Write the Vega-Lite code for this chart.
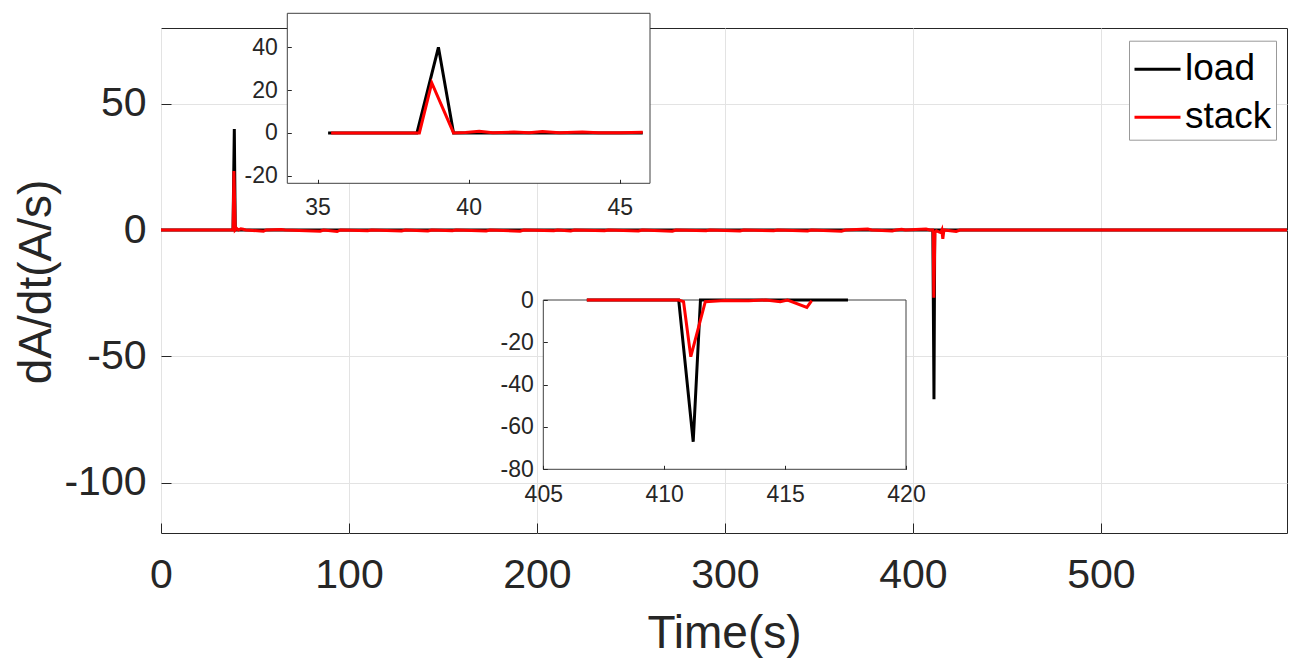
{
  "$schema": "https://vega.github.io/schema/vega-lite/v6.json",
  "width": 1126,
  "height": 505,
  "autosize": "none",
  "padding": {"left": 161, "top": 28, "right": 13, "bottom": 136},
  "background": "#ffffff",
  "config": {
    "view": {"stroke": "#262626", "strokeWidth": 1},
    "font": "Liberation Sans",
    "axis": {"labelFont": "Liberation Sans", "titleFont": "Liberation Sans", "labelColor": "#262626", "titleColor": "#262626", "titleFontWeight": "normal", "tickColor": "#262626", "labelFlush": false, "labelOverlap": false, "labelExpr": "'' + datum.value"}
  },
  "datasets": {
    "main": [
      {"t": 0, "v": 0, "s": "load"},
      {"t": 38.3, "v": 0, "s": "load"},
      {"t": 39.0, "v": 40, "s": "load"},
      {"t": 39.5, "v": 0, "s": "load"},
      {"t": 410.6, "v": 0, "s": "load"},
      {"t": 411.2, "v": -67, "s": "load"},
      {"t": 411.6, "v": 0, "s": "load"},
      {"t": 599, "v": 0, "s": "load"},
      {"t": 0, "v": 0, "s": "stack"},
      {"t": 38.37, "v": 0, "s": "stack"},
      {"t": 38.78, "v": 23.4, "s": "stack"},
      {"t": 39.5, "v": 0, "s": "stack"},
      {"t": 40.35, "v": 0.6, "s": "stack"},
      {"t": 41.2, "v": 0, "s": "stack"},
      {"t": 42.44, "v": 0.5, "s": "stack"},
      {"t": 43.76, "v": 0.3, "s": "stack"},
      {"t": 45, "v": 0, "s": "stack"},
      {"t": 54.5, "v": -0.5, "s": "stack"},
      {"t": 56, "v": 0, "s": "stack"},
      {"t": 64, "v": 0.2, "s": "stack"},
      {"t": 66, "v": 0, "s": "stack"},
      {"t": 84.7, "v": -0.5, "s": "stack"},
      {"t": 86.5, "v": 0, "s": "stack"},
      {"t": 93.7, "v": -0.6, "s": "stack"},
      {"t": 95.5, "v": 0, "s": "stack"},
      {"t": 110, "v": -0.3, "s": "stack"},
      {"t": 112, "v": 0, "s": "stack"},
      {"t": 128, "v": -0.4, "s": "stack"},
      {"t": 130, "v": 0, "s": "stack"},
      {"t": 142, "v": -0.4, "s": "stack"},
      {"t": 144, "v": 0, "s": "stack"},
      {"t": 155, "v": -0.3, "s": "stack"},
      {"t": 157, "v": 0, "s": "stack"},
      {"t": 173, "v": -0.4, "s": "stack"},
      {"t": 175, "v": 0, "s": "stack"},
      {"t": 191, "v": -0.5, "s": "stack"},
      {"t": 193, "v": 0, "s": "stack"},
      {"t": 209, "v": -0.3, "s": "stack"},
      {"t": 211, "v": 0, "s": "stack"},
      {"t": 218, "v": -0.4, "s": "stack"},
      {"t": 220, "v": 0, "s": "stack"},
      {"t": 236, "v": -0.3, "s": "stack"},
      {"t": 238, "v": 0, "s": "stack"},
      {"t": 254, "v": -0.4, "s": "stack"},
      {"t": 256, "v": 0, "s": "stack"},
      {"t": 272, "v": -0.5, "s": "stack"},
      {"t": 274, "v": 0, "s": "stack"},
      {"t": 290, "v": -0.3, "s": "stack"},
      {"t": 292, "v": 0, "s": "stack"},
      {"t": 308, "v": -0.4, "s": "stack"},
      {"t": 310, "v": 0, "s": "stack"},
      {"t": 326, "v": -0.3, "s": "stack"},
      {"t": 328, "v": 0, "s": "stack"},
      {"t": 344, "v": -0.4, "s": "stack"},
      {"t": 346, "v": 0, "s": "stack"},
      {"t": 362, "v": -0.5, "s": "stack"},
      {"t": 364, "v": 0, "s": "stack"},
      {"t": 376, "v": 0.4, "s": "stack"},
      {"t": 378, "v": 0, "s": "stack"},
      {"t": 389, "v": -0.4, "s": "stack"},
      {"t": 391, "v": 0, "s": "stack"},
      {"t": 394, "v": 0.3, "s": "stack"},
      {"t": 396, "v": 0, "s": "stack"},
      {"t": 407, "v": 0.4, "s": "stack"},
      {"t": 409, "v": 0, "s": "stack"},
      {"t": 410.6, "v": 0, "s": "stack"},
      {"t": 410.8, "v": -1, "s": "stack"},
      {"t": 411.1, "v": -26.8, "s": "stack"},
      {"t": 411.7, "v": -1, "s": "stack"},
      {"t": 412.5, "v": -0.3, "s": "stack"},
      {"t": 414.8, "v": -1, "s": "stack"},
      {"t": 415.4, "v": 0, "s": "stack"},
      {"t": 415.9, "v": -3.5, "s": "stack"},
      {"t": 416.5, "v": 0, "s": "stack"},
      {"t": 423, "v": -0.6, "s": "stack"},
      {"t": 425, "v": 0, "s": "stack"},
      {"t": 599, "v": 0, "s": "stack"}
    ],
    "inset1": [
      {"t": 35.35, "v": 0, "s": "load"},
      {"t": 38.29, "v": 0, "s": "load"},
      {"t": 39.0, "v": 40, "s": "load"},
      {"t": 39.5, "v": 0, "s": "load"},
      {"t": 45.76, "v": 0, "s": "load"},
      {"t": 35.45, "v": 0, "s": "stack"},
      {"t": 38.37, "v": 0, "s": "stack"},
      {"t": 38.78, "v": 23.4, "s": "stack"},
      {"t": 39.5, "v": 0, "s": "stack"},
      {"t": 39.9, "v": 0.2, "s": "stack"},
      {"t": 40.35, "v": 0.8, "s": "stack"},
      {"t": 40.8, "v": 0.1, "s": "stack"},
      {"t": 41.5, "v": 0.4, "s": "stack"},
      {"t": 42.0, "v": 0.1, "s": "stack"},
      {"t": 42.44, "v": 0.6, "s": "stack"},
      {"t": 43.0, "v": 0.1, "s": "stack"},
      {"t": 43.76, "v": 0.4, "s": "stack"},
      {"t": 44.3, "v": 0.1, "s": "stack"},
      {"t": 45.0, "v": 0.1, "s": "stack"},
      {"t": 45.76, "v": 0.3, "s": "stack"}
    ],
    "inset2": [
      {"t": 406.8, "v": 0, "s": "load"},
      {"t": 410.6, "v": 0, "s": "load"},
      {"t": 411.2, "v": -67, "s": "load"},
      {"t": 411.5, "v": 0, "s": "load"},
      {"t": 417.6, "v": 0, "s": "load"},
      {"t": 406.8, "v": 0, "s": "stack"},
      {"t": 410.6, "v": 0, "s": "stack"},
      {"t": 410.8, "v": -0.8, "s": "stack"},
      {"t": 411.1, "v": -26.8, "s": "stack"},
      {"t": 411.7, "v": -0.8, "s": "stack"},
      {"t": 412.5, "v": -0.2, "s": "stack"},
      {"t": 413.5, "v": -0.4, "s": "stack"},
      {"t": 414.2, "v": 0, "s": "stack"},
      {"t": 414.8, "v": -0.8, "s": "stack"},
      {"t": 415.1, "v": 0, "s": "stack"},
      {"t": 415.9, "v": -3.5, "s": "stack"},
      {"t": 416.1, "v": -0.3, "s": "stack"}
    ]
  },
  "resolve": {"scale": {"x": "independent", "y": "independent"}, "axis": {"x": "independent", "y": "independent"}},
  "layer": [
    {
      "data": {"name": "main"},
      "mark": {"type": "line", "strokeWidth": 3, "clip": true},
      "encoding": {
        "x": {"field": "t", "type": "quantitative", "scale": {"domain": [0, 599], "nice": false, "zero": false},
              "axis": {"orient": "bottom", "values": [0, 100, 200, 300, 400, 500], "grid": true, "gridColor": "#e3e3e3", "domain": false, "tickSize": -10, "labelFontSize": 41, "labelPadding": 32, "title": "Time(s)", "titleFontSize": 46, "titleX": 563, "titleY": 114, "titleBaseline": "alphabetic", "titleAlign": "center"}},
        "y": {"field": "v", "type": "quantitative", "scale": {"domain": [-120, 80], "nice": false, "zero": false},
              "axis": {"orient": "left", "values": [-100, -50, 0, 50], "grid": true, "gridColor": "#e3e3e3", "domain": false, "tickSize": -10, "labelFontSize": 41, "labelPadding": 25, "title": "dA/dt(A/s)", "titleFontSize": 46, "titleX": -111, "titleY": 253.5, "titleBaseline": "alphabetic", "titleAlign": "center", "titleAngle": -90}},
        "color": {"field": "s", "type": "nominal", "scale": {"domain": ["load", "stack"], "range": ["#000000", "#ff0000"]},
                  "legend": {"orient": "none", "legendX": 968, "legendY": 12.7, "title": null, "symbolType": "stroke", "symbolSize": 2116, "symbolStrokeWidth": 3, "labelFontSize": 37, "labelFont": "Liberation Sans", "labelColor": "#000000", "labelOffset": 3, "padding": 4, "rowPadding": 5, "strokeColor": "#999999", "fillColor": "#ffffff", "labelLimit": 300}}
      }
    },
    {
      "layer": [
        {
          "data": {"values": [{}]},
          "mark": {"type": "rect", "fill": "#ffffff", "stroke": "#404040", "strokeWidth": 1},
          "encoding": {
            "x": {"datum": 34, "type": "quantitative", "scale": {"domain": [34, 46], "range": [126.3, 489], "nice": false, "zero": false},
                  "axis": {"orient": "bottom", "offset": -349.7, "values": [35, 40, 45], "grid": false, "domain": false, "tickSize": -4, "labelFontSize": 23, "labelPadding": 17, "title": null, "zindex": 1}},
            "x2": {"datum": 46},
            "y": {"datum": -23.55, "type": "quantitative", "scale": {"domain": [-23.55, 55.9], "range": [155.3, -14.7], "nice": false, "zero": false},
                  "axis": {"orient": "left", "offset": -126.3, "values": [-20, 0, 20, 40], "grid": false, "domain": false, "tickSize": -4, "labelFontSize": 23, "labelPadding": 14, "title": null, "zindex": 1}},
            "y2": {"datum": 55.9}
          }
        },
        {
          "data": {"name": "inset1"},
          "mark": {"type": "line", "strokeWidth": 3},
          "encoding": {
            "x": {"field": "t", "type": "quantitative", "title": null},
            "y": {"field": "v", "type": "quantitative", "title": null},
            "color": {"field": "s", "type": "nominal"}
          }
        }
      ]
    },
    {
      "layer": [
        {
          "data": {"values": [{}]},
          "mark": {"type": "rect", "fill": "#ffffff", "stroke": "#404040", "strokeWidth": 1},
          "encoding": {
            "x": {"datum": 405, "type": "quantitative", "scale": {"domain": [405, 420], "range": [382.3, 745], "nice": false, "zero": false},
                  "axis": {"orient": "bottom", "offset": -63.7, "values": [405, 410, 415, 420], "grid": false, "domain": false, "tickSize": -4, "labelFontSize": 23, "labelPadding": 18, "title": null, "zindex": 1}},
            "x2": {"datum": 420},
            "y": {"datum": -80, "type": "quantitative", "scale": {"domain": [-80, 0], "range": [441.3, 272], "nice": false, "zero": false},
                  "axis": {"orient": "left", "offset": -382.3, "values": [-80, -60, -40, -20, 0], "grid": false, "domain": false, "tickSize": -4, "labelFontSize": 23, "labelPadding": 14, "title": null, "zindex": 1}},
            "y2": {"datum": 0}
          }
        },
        {
          "data": {"name": "inset2"},
          "mark": {"type": "line", "strokeWidth": 3},
          "encoding": {
            "x": {"field": "t", "type": "quantitative", "title": null},
            "y": {"field": "v", "type": "quantitative", "title": null},
            "color": {"field": "s", "type": "nominal"}
          }
        }
      ]
    }
  ]
}
